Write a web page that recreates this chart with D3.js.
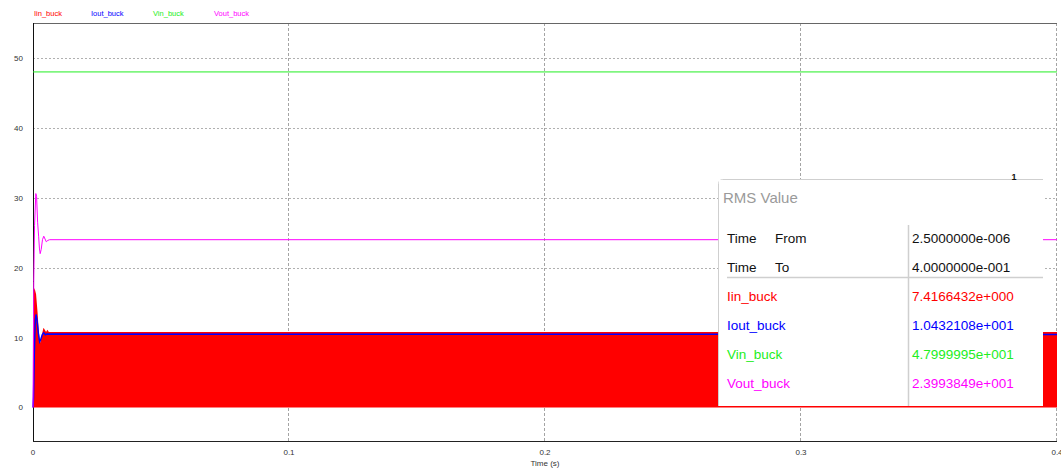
<!DOCTYPE html>
<html>
<head>
<meta charset="utf-8">
<script src="https://cdn.jsdelivr.net/npm/d3@7"></script>
<style>
  body { margin: 0; background: #fff; }
  svg { display: block; font-family: "Liberation Sans", Arial, sans-serif; }
</style>
</head>
<body>
<div id="chart"></div>
<script>
var width = 1061;
var height = 468;
var margin = ({top: 23, right: 4, bottom: 27, left: 33});

// series names / legend
var seriesNames = ["Iin_buck", "Iout_buck", "Vin_buck", "Vout_buck"];
var seriesColors = ["#ff0000", "#0000ff", "#22ee22", "#ff00ff"];

// [time (s), value]
var iinEnvelope = [[0, 0], [0.0001, 16.3], [0.0006, 17.1], [0.0012, 16.2], [0.0018, 13.5], [0.0022, 11.2],
  [0.0027, 9.2], [0.0031, 9.6], [0.0036, 10.6], [0.0041, 11.4], [0.0046, 11.1], [0.0051, 10.8],
  [0.0056, 11.1], [0.0062, 10.8], [0.4, 10.8]];
var ioutValues = [[0, 0], [0.0002, 1.5], [0.0005, 7.5], [0.0009, 12.5], [0.0012, 13.3], [0.0016, 12.4],
  [0.0021, 10.6], [0.0026, 9.4], [0.003, 9.7], [0.0036, 10.4], [0.0042, 10.7], [0.0048, 10.4],
  [0.0054, 10.5], [0.4, 10.45]];
var vinValues = [[0, 48], [0.4, 48]];
var voutValues = [[0, 0], [0.0003, 18], [0.0006, 26], [0.0011, 30.6], [0.0014, 30.2], [0.0018, 26.5],
  [0.0022, 24.5], [0.0025, 22.8], [0.0028, 22.0], [0.0032, 22.6], [0.0037, 24.0], [0.0042, 24.5],
  [0.0047, 24.1], [0.0052, 23.7], [0.0058, 23.9], [0.0065, 24.0], [0.4, 24.0]];

var xTicks = [0, 0.1, 0.2, 0.3, 0.4];
var yTicks = [0, 10, 20, 30, 40, 50];
var xLabel = "Time (s)";

// RMS panel
var rmsTitle = "RMS Value";
var rmsFrom = 2.5e-6;
var rmsTo = 0.4;
var rmsValues = [7.4166432, 10.432108, 47.999995, 23.993849];
var markerLabel = "1";

function sci(v) {
  var s = v.toExponential(7).split("e");
  var sign = s[1][0];
  var exp = s[1].slice(1).padStart(3, "0");
  return s[0] + "e" + sign + exp;
}

var x = d3.scaleLinear()
  .domain([0, 0.4])
  .range([margin.left, width - margin.right]);

var y = d3.scaleLinear()
  .domain([-4.8, 55])
  .range([height - margin.bottom, margin.top]);

var svg = d3.select("#chart").append("svg")
  .attr("width", width)
  .attr("height", height)
  .attr("viewBox", [0, 0, width, height]);

// grid
svg.append("g")
  .selectAll("line")
  .data(yTicks.filter(d => d > 0))
  .join("line")
    .attr("x1", margin.left)
    .attr("x2", width - margin.right)
    .attr("y1", d => Math.round(y(d)) + 0.5)
    .attr("y2", d => Math.round(y(d)) + 0.5)
    .attr("stroke", "#b0b0b0")
    .attr("stroke-dasharray", "2,2");

svg.append("g")
  .selectAll("line")
  .data(xTicks.filter(d => d > 0))
  .join("line")
    .attr("x1", d => Math.round(x(d)) - 0.5)
    .attr("x2", d => Math.round(x(d)) - 0.5)
    .attr("y1", margin.top)
    .attr("y2", height - margin.bottom)
    .attr("stroke", "#a4a4a4")
    .attr("stroke-dasharray", "3,2");

// frame
svg.append("line")
  .attr("x1", margin.left).attr("x2", width - margin.right)
  .attr("y1", margin.top + 0.5).attr("y2", margin.top + 0.5)
  .attr("stroke", "#666");
svg.append("line")
  .attr("x1", margin.left).attr("x2", width - margin.right)
  .attr("y1", height - margin.bottom + 0.5).attr("y2", height - margin.bottom + 0.5)
  .attr("stroke", "#222");
svg.append("line")
  .attr("x1", margin.left + 0.5).attr("x2", margin.left + 0.5)
  .attr("y1", margin.top).attr("y2", height - margin.bottom)
  .attr("stroke", "#111");

// Iin: switching current drawn as filled band
var area = d3.area()
  .x(d => x(d[0]))
  .y0(y(0))
  .y1(d => y(d[1]));

svg.append("path")
  .datum(iinEnvelope)
  .attr("fill", seriesColors[0])
  .attr("d", area);

var line = d3.line()
  .x(d => x(d[0]))
  .y(d => y(d[1]));

[ioutValues, vinValues, voutValues].forEach(function(s, i) {
  svg.append("path")
    .datum(s)
    .attr("fill", "none")
    .attr("stroke", seriesColors[i + 1])
    .attr("stroke-width", i === 0 ? 1.5 : 1)
    .attr("d", line);
});

// axes labels
svg.append("g")
  .attr("font-size", 8)
  .attr("fill", "#333")
  .attr("text-anchor", "end")
  .selectAll("text")
  .data(yTicks)
  .join("text")
    .attr("x", 23)
    .attr("y", d => y(d) + 3)
    .text(d => d);

svg.append("g")
  .attr("font-size", 8)
  .attr("fill", "#333")
  .attr("text-anchor", "middle")
  .selectAll("text")
  .data(xTicks)
  .join("text")
    .attr("x", d => x(d))
    .attr("y", 455)
    .text(d => d);

svg.append("text")
  .attr("x", x(0.2))
  .attr("y", 466)
  .attr("font-size", 8)
  .attr("fill", "#333")
  .attr("text-anchor", "middle")
  .text(xLabel);

// legend
var legendX = [34, 91, 153, 214];
svg.append("g")
  .attr("font-size", 7.5)
  .selectAll("text")
  .data(seriesNames)
  .join("text")
    .attr("x", (d, i) => legendX[i])
    .attr("y", 16)
    .attr("fill", (d, i) => seriesColors[i])
    .text(d => d);

// RMS panel
var bx = 718, by = 179, bw = 325, bh = 227, sepX = 908;
var panel = svg.append("g");
panel.append("path")
  .attr("d", `M${bx + 0.5},${by + bh} V${by + 4.5} Q${bx + 0.5},${by + 0.5} ${bx + 4.5},${by + 0.5} H${bx + bw}`)
  .attr("fill", "#fff")
  .attr("stroke", "#cfcfcf");
panel.append("rect")
  .attr("x", bx + 1).attr("y", by + 1)
  .attr("width", bw - 1).attr("height", bh - 1)
  .attr("fill", "#fff");
panel.append("text")
  .attr("x", bx + 5)
  .attr("y", by + 24)
  .attr("font-size", 15)
  .attr("fill", "#9a9a9a")
  .text(rmsTitle);
panel.append("line")
  .attr("x1", sepX + 0.5).attr("x2", sepX + 0.5)
  .attr("y1", 225).attr("y2", by + bh)
  .attr("stroke", "#cfcfcf")
  .attr("stroke-width", 1.5);
panel.append("line")
  .attr("x1", 727).attr("x2", bx + bw)
  .attr("y1", 277.5).attr("y2", 277.5)
  .attr("stroke", "#cfcfcf")
  .attr("stroke-width", 1.5);

var rows = [
  {a: "Time", b: "From", v: sci(rmsFrom), c: "#111", y: 243},
  {a: "Time", b: "To", v: sci(rmsTo), c: "#111", y: 272}
].concat(seriesNames.map((n, i) => ({a: n, b: "", v: sci(rmsValues[i]), c: seriesColors[i], y: 301 + i * 29})));

var rowG = panel.append("g").attr("font-size", 13.5);
rows.forEach(function(r) {
  rowG.append("text").attr("x", 727).attr("y", r.y).attr("fill", r.c).text(r.a);
  if (r.b) rowG.append("text").attr("x", 775).attr("y", r.y).attr("fill", r.c).text(r.b);
  rowG.append("text").attr("x", 912).attr("y", r.y).attr("fill", r.c).text(r.v);
});

// marker
svg.append("text")
  .attr("x", 1014)
  .attr("y", 180)
  .attr("font-size", 9)
  .attr("font-weight", "bold")
  .attr("fill", "#111")
  .attr("text-anchor", "middle")
  .text(markerLabel);
</script>
</body>
</html>
